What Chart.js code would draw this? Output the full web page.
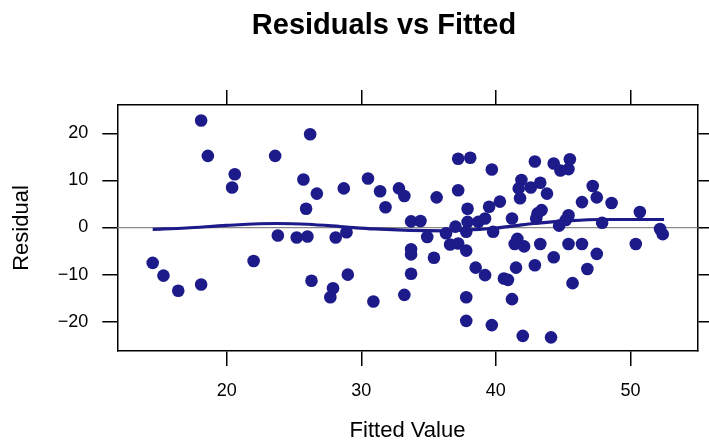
<!DOCTYPE html>
<html>
<head>
<meta charset="utf-8">
<title>Residuals vs Fitted</title>
<script src="https://cdn.jsdelivr.net/npm/chart.js@4.4.1/dist/chart.umd.min.js"></script>
<style>
  body { margin: 0; background: #fff; }
  #wrap { width: 709px; height: 442px; }
</style>
</head>
<body>
<div id="wrap"><canvas id="residChart" width="709" height="442"></canvas></div>
<script>
"use strict";

var TITLE = 'Residuals vs Fitted';
var X_LABEL = 'Fitted Value';
var Y_LABEL = 'Residual';

var X_TICKS = [20, 30, 40, 50];
var Y_TICKS = [-20, -10, 0, 10, 20];
var X_RANGE = [11.87, 55.0];
var Y_RANGE = [-26.2, 26.0];
var REF_LINE = 0;

// fitted values and residuals
var FITTED = [
  14.5, 15.3, 16.4, 18.1, 18.1, 18.6, 20.6, 20.4, 22.0, 23.6,
  23.8, 25.2, 26.0, 26.2, 25.7, 26.7, 25.9, 26.3, 28.1, 28.9,
  28.7, 29.0, 27.9, 27.7, 30.5, 31.4, 30.9, 31.8, 32.8, 33.2,
  33.2, 33.7, 34.4, 33.7, 33.7, 33.7, 34.9, 35.4, 35.6, 36.3,
  36.6, 37.2, 37.0, 37.2, 37.9, 37.9, 37.8, 37.8, 37.2, 38.1,
  38.7, 39.2, 39.5, 40.3, 39.7, 39.8, 38.5, 39.2, 37.8, 37.8,
  39.7, 40.6, 40.9, 41.2, 41.2, 41.6, 41.4, 42.1, 41.5, 42.0,
  41.9, 41.7, 42.6, 43.3, 43.8, 41.8, 42.9, 43.1, 43.4, 43.0,
  43.3, 42.9, 44.3, 44.8, 45.4, 45.5, 44.3, 44.1, 44.7, 45.2,
  45.4, 45.4, 46.4, 46.4, 47.2, 47.5, 48.6, 47.9, 47.5, 46.8,
  45.7, 50.7, 50.4, 52.2, 52.4
];
var RESID = [
  -7.5, -10.2, -13.4, -12.1, 22.7, 15.2, 11.3, 8.5, -7.1, 15.2,
  -1.7, -2.1, -1.9, 19.8, 10.2, 7.2, 4.0, -11.3, -2.1, -1.0,
  8.3, -10.0, -12.9, -14.8, 10.4, 7.7, -15.7, 4.3, 8.3, 6.7,
  -14.3, 1.3, 1.4, -4.6, -5.7, -9.8, -2.0, -6.4, 6.4, -1.2,
  -3.6, -3.4, 0.2, 7.9, 4.0, 1.2, -0.9, -4.9, 14.6, 14.8,
  1.2, 1.9, 4.4, 5.5, 12.3, -0.9, -8.5, -10.1, -14.8, -19.8,
  -20.7, -10.8, -11.1, 1.9, -15.2, -2.4, -3.5, -4.0, -8.5, -23.0,
  10.1, 8.3, 8.5, 9.5, 7.2, 6.2, 14.0, 3.0, 3.7, 1.9,
  -3.5, -8.0, 13.6, 12.1, 12.4, 14.5, -6.3, -23.3, 0.4, 1.6,
  2.6, -3.5, -3.5, 5.4, 8.8, 6.4, 5.2, 1.0, -5.6, -8.8,
  -11.8, 3.3, -3.5, -0.3, -1.4
];

// loess smoother
var SMOOTH_X = [14.5, 17, 20, 23.7, 26, 28.9, 31, 33.6, 36.1, 38, 39.8, 41.5, 42.8, 45.3, 47.75, 50, 52.5];
var SMOOTH_Y = [-0.4, -0.1, 0.45, 0.85, 0.7, 0.1, -0.3, -0.6, -0.7, -0.5, -0.2, 0.4, 0.85, 1.4, 1.7, 1.7, 1.7];

var COLORS = {
  points: '#1D1B8A',
  smooth: '#1D1B8A',
  ref: '#8a8a8a',
  axis: '#000000'
};
var FONT = '"Liberation Sans", Arial, Helvetica, sans-serif';

Chart.defaults.font.family = FONT;
Chart.defaults.color = '#000';

var toPoints = function (xs, ys) {
  return xs.map(function (x, i) { return {x: x, y: ys[i]}; });
};

var fixedTicks = function (values) {
  return function (scale) {
    scale.ticks = values.map(function (v) { return {value: v}; });
  };
};

var minusSign = function (v) {
  return String(v).replace('-', '\u2212');
};

var refLinePlugin = {
  id: 'refLine',
  beforeDatasetsDraw: function (chart) {
    var ctx = chart.ctx, area = chart.chartArea;
    var y = chart.scales.y.getPixelForValue(REF_LINE);
    ctx.save();
    ctx.strokeStyle = COLORS.ref;
    ctx.lineWidth = 1.2;
    ctx.beginPath();
    ctx.moveTo(area.left, y);
    ctx.lineTo(area.right, y);
    ctx.stroke();
    ctx.restore();
  }
};

var titlePlugin = {
  id: 'plotTitle',
  afterDraw: function (chart) {
    var ctx = chart.ctx;
    ctx.save();
    ctx.font = 'bold 29px ' + FONT;
    ctx.fillStyle = '#000';
    ctx.textAlign = 'center';
    ctx.textBaseline = 'middle';
    ctx.fillText(TITLE, 384, 26);
    ctx.restore();
  }
};

var frameGrid = {
  display: true,
  drawOnChartArea: false,
  drawTicks: true,
  tickLength: 15,
  color: COLORS.axis,
  tickColor: COLORS.axis,
  lineWidth: 1.5
};
var frameBorder = { display: true, color: COLORS.axis, width: 1.5 };

var load_resid_chart = function () {
  var el = document.getElementById('residChart').getContext('2d');

  var config = {
    type: 'scatter',
    data: {
      datasets: [
        {
          label: 'smooth',
          type: 'line',
          data: toPoints(SMOOTH_X, SMOOTH_Y),
          borderColor: COLORS.smooth,
          borderWidth: 3.2,
          pointRadius: 0,
          fill: false,
          cubicInterpolationMode: 'monotone',
          order: 0
        },
        {
          label: 'residuals',
          data: toPoints(FITTED, RESID),
          backgroundColor: COLORS.points,
          borderWidth: 0,
          pointRadius: 6.3,
          order: 1
        }
      ]
    },
    options: {
      responsive: false,
      animation: false,
      layout: { padding: 0 },
      plugins: {
        legend: { display: false },
        tooltip: { enabled: false },
        title: { display: false }
      },
      scales: {
        x: {
          type: 'linear',
          position: 'bottom',
          min: X_RANGE[0],
          max: X_RANGE[1],
          afterBuildTicks: fixedTicks(X_TICKS),
          afterFit: function (s) { s.height = 91; },
          grid: frameGrid,
          border: frameBorder,
          ticks: { padding: 14, font: { size: 18 }, maxRotation: 0 },
          title: {
            display: true,
            text: X_LABEL,
            font: { size: 22, lineHeight: 1 },
            padding: { top: 0, bottom: 0 }
          }
        },
        x2: {
          type: 'linear',
          position: 'top',
          min: X_RANGE[0],
          max: X_RANGE[1],
          afterBuildTicks: fixedTicks(X_TICKS),
          afterFit: function (s) { s.height = 105; },
          grid: frameGrid,
          border: frameBorder,
          ticks: { display: false }
        },
        y: {
          type: 'linear',
          position: 'left',
          min: Y_RANGE[0],
          max: Y_RANGE[1],
          afterBuildTicks: fixedTicks(Y_TICKS),
          afterFit: function (s) { s.width = 117.3; },
          grid: frameGrid,
          border: frameBorder,
          ticks: { padding: 14, font: { size: 18 }, callback: minusSign },
          title: {
            display: true,
            text: Y_LABEL,
            font: { size: 22 },
            padding: { top: 9, bottom: 0 }
          }
        },
        y2: {
          type: 'linear',
          position: 'right',
          min: Y_RANGE[0],
          max: Y_RANGE[1],
          afterBuildTicks: fixedTicks(Y_TICKS),
          afterFit: function (s) { s.width = 11.3; },
          grid: frameGrid,
          border: frameBorder,
          ticks: { display: false }
        }
      }
    },
    plugins: [refLinePlugin, titlePlugin]
  };

  return new Chart(el, config);
};

var residChart = load_resid_chart();
</script>
</body>
</html>
